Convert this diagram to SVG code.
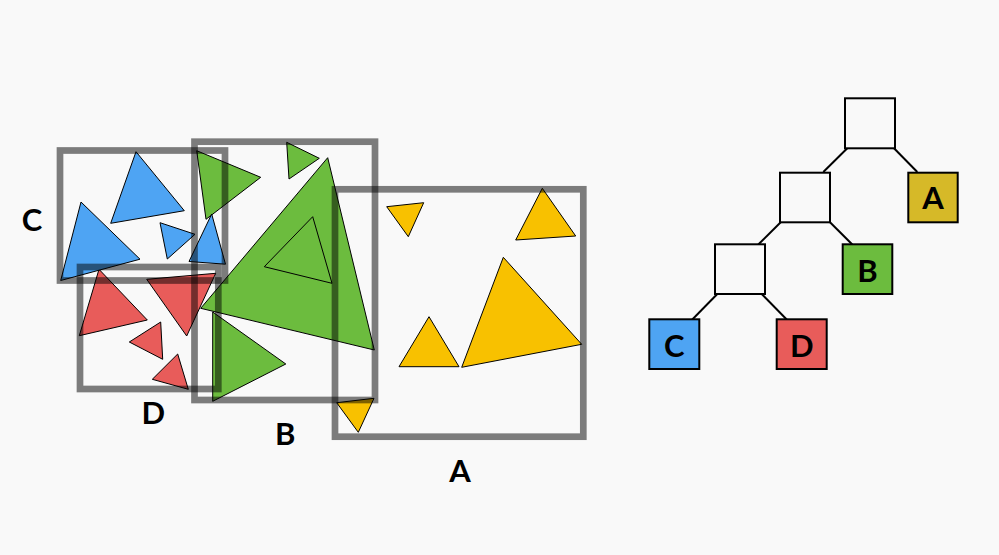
<svg xmlns="http://www.w3.org/2000/svg" width="999" height="555" viewBox="0 0 999 555">
<style>
.t{stroke:#000;stroke-width:1;stroke-linejoin:round}
.y{fill:#f8c100}.g{fill:#6cbc3e}.r{fill:#e85c5a}.b{fill:#4ea4f3}
.bb{fill:none;stroke:#000;stroke-opacity:0.5;stroke-width:6.7}
.lbl{font-family:Lato,"Open Sans",sans-serif;font-weight:bold;font-size:31px;text-anchor:middle;fill:#000}
.n{stroke:#000;stroke-width:2}
.e{stroke:#000;stroke-width:2;fill:none}
</style>
<rect width="999" height="555" fill="#f9f9f9"/>
<g id="triangles">
<polygon class="t y" points="386.7,206.7 423.7,202.7 408.3,236.7"/>
<polygon class="t y" points="542.3,188.3 575.7,236 515.7,240"/>
<polygon class="t y" points="429,316.7 459,366.7 399,366.7"/>
<polygon class="t y" points="503.3,257.3 581.7,344.3 461.7,367.3"/>
<polygon class="t y" points="336.7,402.7 374,398.3 358.3,432.3"/>
<polygon class="t g" points="196.7,150.7 260.7,177.3 206,219.3"/>
<polygon class="t g" points="286.7,142.3 319.3,158.3 289,179"/>
<polygon class="t g" points="327.7,157.7 374.3,350 200.7,308.3"/>
<polygon class="t g" points="312.7,216.7 332,283.3 264.3,266.7"/>
<polygon class="t g" points="212.7,312 285.8,364 212.7,401.3"/>
<polygon class="t r" points="99,269.3 147.3,320 79.3,335.7"/>
<polygon class="t r" points="146.7,279.3 215.7,273.3 186.7,336"/>
<polygon class="t r" points="160.7,322 162.7,359.3 129.3,342"/>
<polygon class="t r" points="177.7,354 188.3,389.3 152.3,379.3"/>
<polygon class="t b" points="136,151.7 184.3,210.7 110.7,223.3"/>
<polygon class="t b" points="81,202 140,259.2 60.7,280.5"/>
<polygon class="t b" points="160,222.7 195,234.3 167.3,259"/>
<polygon class="t b" points="211.7,214 225.5,264.2 189,261.5"/>
</g>
<g id="box-C"><rect class="bb" x="60" y="150.5" width="165" height="130"/><text class="lbl" x="32" y="230.5">C</text></g>
<g id="box-D"><rect class="bb" x="80" y="267" width="138.3" height="122"/><text class="lbl" x="153.3" y="424.3">D</text></g>
<g id="box-B"><rect class="bb" x="194.5" y="141.7" width="180.5" height="258.3"/><text class="lbl" x="285.3" y="445">B</text></g>
<g id="box-A"><rect class="bb" x="335" y="189.3" width="248.3" height="247.4"/><text class="lbl" x="460" y="481.7">A</text></g>
<g id="connectors">
<line class="e" x1="847.3" y1="148.3" x2="823.3" y2="172"/>
<line class="e" x1="894" y1="148.3" x2="917.3" y2="172"/>
<line class="e" x1="780.7" y1="222.3" x2="758.3" y2="244.5"/>
<line class="e" x1="830" y1="222.3" x2="852.3" y2="244.5"/>
<line class="e" x1="717.3" y1="294" x2="692.3" y2="319.5"/>
<line class="e" x1="761.7" y1="294" x2="786.7" y2="319.5"/>
</g>
<g id="root"><rect class="n" x="845" y="98.3" width="50" height="50" fill="#f9f9f9"/></g>
<g id="inner1"><rect class="n" x="780" y="172.7" width="50" height="49.6" fill="#f9f9f9"/></g>
<g id="inner2"><rect class="n" x="715" y="244.3" width="50" height="49.7" fill="#f9f9f9"/></g>
<g id="leaf-A"><rect class="n" x="908.3" y="172.7" width="49.4" height="49.6" fill="#d6b928"/><text class="lbl" x="933" y="209.3">A</text></g>
<g id="leaf-B"><rect class="n" x="842.7" y="244.3" width="49.6" height="49.7" fill="#6cbc3e"/><text class="lbl" x="867.5" y="281.5">B</text></g>
<g id="leaf-C"><rect class="n" x="649.3" y="319.3" width="50" height="49.7" fill="#4ea4f3"/><text class="lbl" x="674.3" y="356.5">C</text></g>
<g id="leaf-D"><rect class="n" x="776.7" y="319.3" width="50" height="49.7" fill="#e85c5a"/><text class="lbl" x="801.7" y="356.5">D</text></g>
</svg>
